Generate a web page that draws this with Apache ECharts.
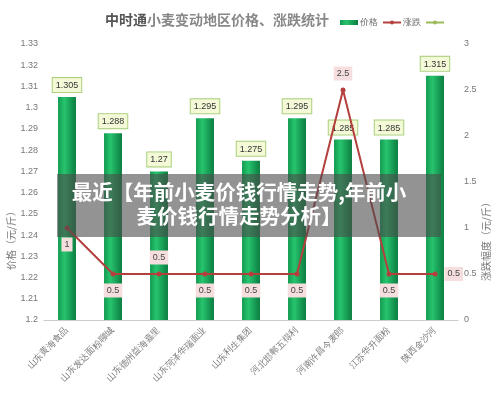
<!DOCTYPE html>
<html>
<head>
<meta charset="utf-8">
<script src="https://cdn.jsdelivr.net/npm/echarts@6/dist/echarts.min.js"></script>
<style>
  html, body { margin: 0; padding: 0; background: #fff; }
  #main { width: 500px; height: 412px; }
</style>
</head>
<body>
<div id="main"></div>
<script>
// 地区 / 企业
var categories = ['山东黄海食品', '山东发达面粉聊城', '山东德州益海嘉里', '山东菏泽华瑞面业', '山东利生集团',
                  '河北邯郸五得利', '河南许昌今麦郎', '江苏华升面粉', '陕西金沙河'];
// 价格（元/斤）
var prices = [1.305, 1.288, 1.27, 1.295, 1.275, 1.295, 1.285, 1.285, 1.315];
// 涨跌幅度
var changes = [1, 0.5, 0.5, 0.5, 0.5, 0.5, 2.5, 0.5, 0.5];
var changeLabelPos = ['bottom', 'bottom', 'top', 'bottom', 'bottom', 'bottom', 'top', 'bottom', 'right'];

var myChart = echarts.init(document.getElementById('main'));

var barColor = new echarts.graphic.LinearGradient(0, 0, 1, 0, [
    {offset: 0, color: '#129a50'},
    {offset: 0.35, color: '#27c46e'},
    {offset: 1, color: '#0b7d40'}
]);

var option = {
    backgroundColor: '#fff',
    title: {
        text: '{b|中时通}{n|小麦变动地区价格、涨跌统计}',
        left: 100,
        top: 8,
        textStyle: {
            rich: {
                b: {fontSize: 14, fontWeight: 'bold', color: '#555', fontFamily: 'Noto Sans CJK SC'},
                n: {fontSize: 14, color: '#888', fontFamily: 'Noto Sans CJK SC'}
            }
        }
    },
    legend: {
        left: 335,
        top: 13,
        itemGap: 4,
        itemWidth: 18,
        itemHeight: 5,
        textStyle: {fontSize: 9, color: '#666', padding: [0, 0, 0, -3]},
        data: [
            {name: '价格', icon: 'rect'},
            {name: '涨跌'},
            {name: ' '}
        ]
    },
    grid: {
        left: 44,
        right: 42,
        top: 44,
        bottom: 92
    },
    xAxis: {
        type: 'category',
        data: categories,
        axisTick: {show: false},
        axisLine: {lineStyle: {color: '#ccc'}},
        axisLabel: {
            rotate: 45,
            fontSize: 9,
            color: '#777',
            margin: 9,
            interval: 0
        }
    },
    yAxis: [
        {
            type: 'value',
            min: 1.2,
            max: 1.33,
            interval: 0.01,
            splitLine: {show: false},
            axisLine: {show: false},
            axisTick: {show: false},
            axisLabel: {
                fontSize: 9,
                color: '#777',
                margin: 6,
                formatter: function (v) { return +v.toFixed(2); }
            }
        },
        {
            type: 'value',
            min: 0,
            max: 3,
            interval: 0.5,
            splitLine: {show: false},
            axisLine: {show: false},
            axisTick: {show: false},
            axisLabel: {fontSize: 9, color: '#777', margin: 6}
        }
    ],
    graphic: [
        {
            type: 'text',
            left: 6,
            top: 206,
            rotation: Math.PI / 2,
            style: {text: '价格（元/斤）', fontSize: 10, fill: '#777', fontFamily: 'Noto Sans CJK SC'}
        },
        {
            type: 'text',
            left: 481,
            top: 197,
            rotation: Math.PI / 2,
            style: {text: '涨跌幅度（元/斤）', fontSize: 10, fill: '#777', fontFamily: 'Noto Sans CJK SC'}
        },
        {
            type: 'rect',
            left: 57,
            top: 174,
            z: 100,
            shape: {width: 384, height: 63},
            style: {fill: 'rgba(75,75,75,0.6)'}
        },
        {
            type: 'text',
            x: 239,
            y: 180,
            z: 101,
            style: {
                text: '最近【年前小麦价钱行情走势,年前小\n麦价钱行情走势分析】',
                fontSize: 20.5,
                fontWeight: 'bold',
                lineHeight: 24,
                align: 'center',
                fill: '#fff',
                fontFamily: 'Noto Sans CJK SC'
            }
        }
    ],
    series: [
        {
            name: '价格',
            type: 'bar',
            barWidth: '39%',
            data: prices,
            itemStyle: {color: barColor},
            label: {
                show: true,
                position: 'top',
                distance: 5,
                fontSize: 9,
                color: '#333',
                backgroundColor: '#f4fad8',
                borderColor: '#a9cf7c',
                borderWidth: 1,
                padding: [3, 3, 2, 3]
            }
        },
        {
            name: '涨跌',
            type: 'line',
            yAxisIndex: 1,
            data: changes.map(function (v, i) {
                return {value: v, label: {position: changeLabelPos[i]}};
            }),
            symbol: 'circle',
            symbolSize: 5,
            lineStyle: {color: '#b4403e', width: 2},
            itemStyle: {color: '#b4403e'},
            label: {
                show: true,
                fontSize: 9,
                color: '#444',
                backgroundColor: '#f5dedd',
                padding: [3, 3, 2, 3],
                distance: 7
            }
        },
        {
            name: ' ',
            type: 'line',
            yAxisIndex: 1,
            data: [],
            symbol: 'circle',
            symbolSize: 5,
            lineStyle: {color: '#9bbb59', width: 2},
            itemStyle: {color: '#9bbb59'}
        }
    ]
};
myChart.setOption(option);
</script>
</body>
</html>
